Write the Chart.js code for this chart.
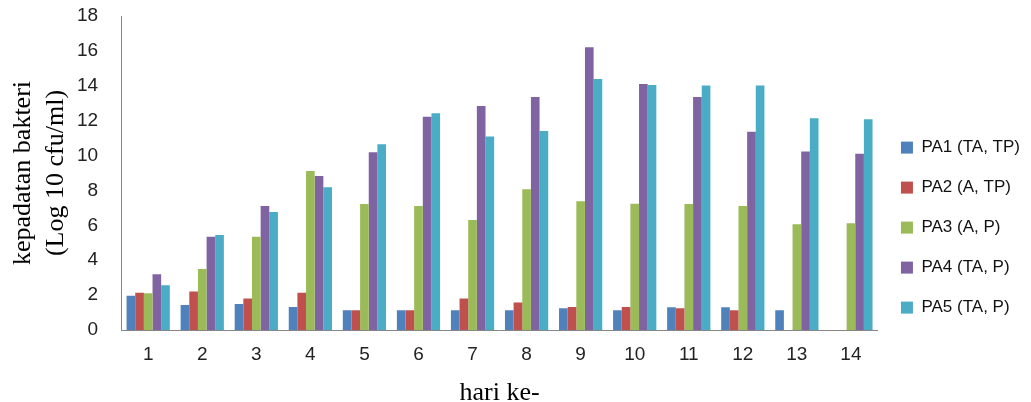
<!DOCTYPE html>
<html>
<head>
<meta charset="utf-8">
<script src="https://cdn.jsdelivr.net/npm/chart.js@4"></script>
<style>
  html, body { margin: 0; padding: 0; background: #fff; }
  #wrap { width: 1031px; height: 402px; }
</style>
</head>
<body>
<div id="wrap"><canvas id="myChart"></canvas></div>
<script>
// data (Log 10 cfu/ml)
const hari = ['1', '2', '3', '4', '5', '6', '7', '8', '9', '10', '11', '12', '13', '14'];
const pa1 = [1.97, 1.43, 1.49, 1.32, 1.13, 1.13, 1.13, 1.13, 1.24, 1.13, 1.30, 1.30, 1.13, null];
const pa2 = [2.14, 2.20, 1.80, 2.14, 1.13, 1.13, 1.80, 1.57, 1.32, 1.32, 1.24, 1.13, null, null];
const pa3 = [2.10, 3.50, 5.35, 9.12, 7.22, 7.11, 6.31, 8.07, 7.38, 7.24, 7.22, 7.11, 6.06, 6.12];
const pa4 = [3.19, 5.35, 7.11, 8.83, 10.19, 12.23, 12.84, 13.36, 16.21, 14.10, 13.36, 11.37, 10.23, 10.11];
const pa5 = [2.56, 5.45, 6.77, 8.18, 10.65, 12.42, 11.09, 11.41, 14.39, 14.05, 14.01, 14.01, 12.14, 12.08];
const seriesNames = ['PA1 (TA, TP)', 'PA2 (A, TP)', 'PA3 (A, P)', 'PA4 (TA, P)', 'PA5 (TA, P)'];
const colors = ['#4F81BD', '#C0504D', '#9BBB59', '#8064A2', '#4BACC6'];

const allSeries = [pa1, pa2, pa3, pa4, pa5];
const sansFont = 'Liberation Sans, Arial, sans-serif';
const serifFont = 'Liberation Serif, Times New Roman, serif';

function createChart() {
    const ctx = document.getElementById('myChart').getContext('2d');
    return new Chart(ctx, {
        type: 'bar',
        data: {
            labels: hari,
            datasets: allSeries.map((vals, i) => ({
                label: seriesNames[i],
                data: vals,
                backgroundColor: colors[i],
                borderWidth: 0,
                categoryPercentage: 0.8,
                barPercentage: 1.0
            }))
        },
        options: {
            responsive: true,
            maintainAspectRatio: false,
            animation: false,
            layout: { padding: { left: 4, top: 16, right: 1, bottom: -4 } },
            plugins: {
                legend: {
                    position: 'right',
                    align: 'center',
                    // blank title just nudges the legend items down a bit
                    title: { display: true, text: ' ', font: { size: 1 }, padding: 16 },
                    labels: {
                        boxWidth: 12,
                        boxHeight: 12,
                        padding: 23,
                        color: '#111',
                        font: { family: sansFont, size: 17 }
                    }
                },
                tooltip: { enabled: false }
            },
            scales: {
                x: {
                    // ticks hidden, tickLength only used as spacing
                    grid: { display: false, drawTicks: true, tickLength: 10.6 },
                    border: { display: true, color: '#868686' },
                    ticks: { color: '#222', padding: 3, font: { family: sansFont, size: 19 } },
                    title: {
                        display: true,
                        text: 'hari ke-',
                        color: '#000',
                        font: { family: serifFont, size: 26, lineHeight: 1.0 },
                        padding: { top: 10.6, bottom: 0 }
                    }
                },
                y: {
                    min: 0,
                    max: 18,
                    grid: { display: false, drawTicks: true, tickLength: 20 },
                    border: { display: true, color: '#868686' },
                    ticks: { stepSize: 2, color: '#222', padding: 3, font: { family: sansFont, size: 19 } },
                    title: {
                        display: true,
                        text: ['kepadatan bakteri', '(Log 10 cfu/ml)'],
                        color: '#000',
                        font: { family: serifFont, size: 26, lineHeight: 1.27 },
                        padding: { top: 2.5, bottom: 1.5 }
                    }
                }
            }
        }
    });
}

window.onload = () => {
    createChart();
}
</script>
</body>
</html>
